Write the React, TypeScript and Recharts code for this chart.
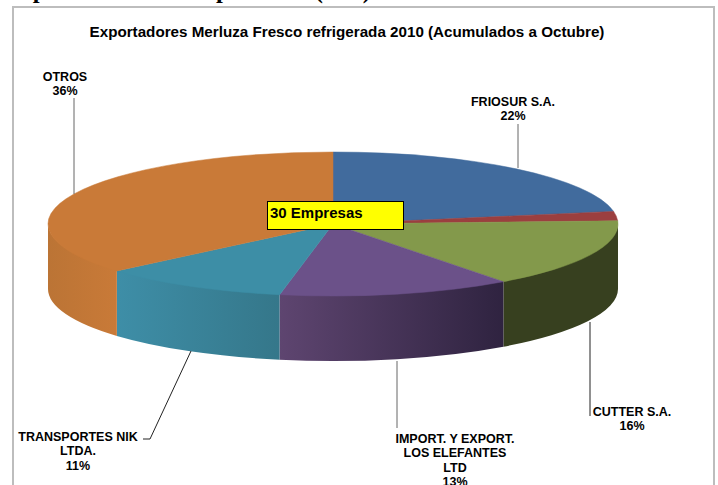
import { PieChart, Pie, Cell } from 'recharts';

const companies = ['FRIOSUR S.A.', 'AUSTRAL', 'CUTTER S.A.', 'IMPORT. Y EXPORT. LOS ELEFANTES LTD', 'TRANSPORTES NIK LTDA.', 'OTROS'];
const shares = [22.2, 2.1, 15.5, 13.2, 10.7, 36.3];
const topColors = ['#416b9d', '#9b3f3f', '#83994b', '#6b5189', '#3d8ea6', '#c97a38'];
const wallFrom = ['#416b9d', '#9b3f3f', '#37401f', '#5e4570', '#3e8ea7', '#bb7435'];
const wallTo = ['#416b9d', '#9b3f3f', '#37401f', '#2f2340', '#35778a', '#c97a38'];
const labelLines = [
  ['FRIOSUR S.A.'],
  [],
  ['CUTTER S.A.'],
  ['IMPORT. Y EXPORT.', 'LOS ELEFANTES', 'LTD'],
  ['TRANSPORTES NIK', 'LTDA.'],
  ['OTROS'],
];

const chartData = companies.map((name, i) => ({ name, value: shares[i] }));

const WIDTH = 718;
const HEIGHT = 485;
const CX = 333;
const CY = 224;
const RX = 285;
const SQUASH = 72 / 285;
const DEPTH = 65;

// where each label's text block sits and which way its leader line runs
const labelAnchors = [
  { x: 513, y: 106, lead: [[518, 124], [518, 168]] },
  null,
  { x: 632, y: 416, lead: [[590, 322], [590, 416]] },
  { x: 455, y: 443, lead: [[397, 361], [397, 428]] },
  { x: 78, y: 441, lead: [[191, 351], [150, 439], [143, 439]] },
  { x: 65, y: 81, lead: [[74, 98], [74, 194]] },
];

const pt = (deg: number, r: number, cx: number, cy: number) => {
  const a = (deg * Math.PI) / 180;
  return [cx + r * Math.cos(a), cy - r * SQUASH * Math.sin(a)];
};

const TopSlice = (props: any) => {
  const { cx, cy, outerRadius, startAngle, endAngle, fill } = props;
  const s = pt(startAngle, outerRadius, cx, cy);
  const e = pt(endAngle, outerRadius, cx, cy);
  const large = Math.abs(startAngle - endAngle) > 180 ? 1 : 0;
  const d = `M${cx},${cy} L${s[0]},${s[1]} A${outerRadius},${outerRadius * SQUASH} 0 ${large} 1 ${e[0]},${e[1]} Z`;
  return <path d={d} fill={fill} stroke={fill} strokeWidth={0.5} />;
};

// side wall of a slice: only the part on the lower half of the ellipse shows
const WallSlice = (props: any) => {
  const { cx, cy, outerRadius, startAngle, endAngle, index } = props;
  const from = Math.min(startAngle, 0);
  const to = Math.max(endAngle, -180);
  if (from <= to) return <g />;
  const s = pt(from, outerRadius, cx, cy);
  const e = pt(to, outerRadius, cx, cy);
  const ry = outerRadius * SQUASH;
  // top edge runs 1px under the top face so no white seam shows
  const d = `M${s[0]},${s[1] - 1} A${outerRadius},${ry} 0 0 1 ${e[0]},${e[1] - 1} L${e[0]},${e[1] + DEPTH} A${outerRadius},${ry} 0 0 0 ${s[0]},${s[1] + DEPTH} Z`;
  const id = `wall-${index}`;
  return (
    <g>
      <defs>
        <linearGradient id={id} x1="0" y1="0" x2="1" y2="0">
          <stop offset="0%" stopColor={wallFrom[index]} />
          <stop offset="100%" stopColor={wallTo[index]} />
        </linearGradient>
      </defs>
      <path d={d} fill={`url(#${id})`} stroke="none" />
    </g>
  );
};

const SliceLabel = (props: any) => {
  const { index, value } = props;
  const anchor = labelAnchors[index];
  if (!anchor) return <g />;
  const lines = [...labelLines[index], `${Math.round(value)}%`];
  return (
    <g>
      <polyline
        points={anchor.lead.map((p) => p.join(',')).join(' ')}
        fill="none"
        stroke={index === 4 || index === 2 ? '#222' : '#666'}
        strokeWidth={1}
      />
      <text
        x={anchor.x}
        y={anchor.y}
        textAnchor="middle"
        fontFamily="Liberation Sans, Arial, sans-serif"
        fontWeight="bold"
        fontSize={12.5}
        fill="#000"
      >
        {lines.map((line, i) => (
          <tspan key={i} x={anchor.x} dy={i === 0 ? 0 : 14.3}>
            {line}
          </tspan>
        ))}
      </text>
    </g>
  );
};

export default function App() {
  return (
    <div style={{ position: 'absolute', left: 0, top: 0, width: WIDTH, height: HEIGHT, overflow: 'hidden', background: '#fff' }}>
      <div style={{ position: 'absolute', left: 12, top: 6, width: 699, height: 600, border: '2px solid #bdbdbd' }} />
      <div
        style={{
          position: 'absolute',
          left: 17,
          top: -24,
          whiteSpace: 'nowrap',
          fontFamily: 'Liberation Serif, serif',
          fontWeight: 'bold',
          fontSize: 24.5,
        }}
      >
        s por cantidades exportadas (Ton)
      </div>
      <PieChart
        width={WIDTH}
        height={HEIGHT}
        margin={{ top: 0, right: 0, bottom: 0, left: 0 }}
        style={{ position: 'absolute', left: 0, top: 0 }}
      >
        <Pie
          data={chartData}
          dataKey="value"
          nameKey="name"
          cx={CX}
          cy={CY}
          outerRadius={RX}
          startAngle={90}
          endAngle={-270}
          stroke="none"
          isAnimationActive={false}
          shape={WallSlice}
          labelLine={false}
          label={SliceLabel}
        />
        <Pie
          data={chartData}
          dataKey="value"
          nameKey="name"
          cx={CX}
          cy={CY}
          outerRadius={RX}
          startAngle={90}
          endAngle={-270}
          stroke="none"
          isAnimationActive={false}
          shape={TopSlice}
          labelLine={false}
        >
          {chartData.map((d, i) => (
            <Cell key={d.name} fill={topColors[i]} />
          ))}
        </Pie>
      </PieChart>
      <div
        style={{
          position: 'absolute',
          left: 267,
          top: 201,
          width: 137,
          height: 29,
          boxSizing: 'border-box',
          border: '1px solid #000',
          background: '#ffff00',
          fontFamily: 'Liberation Sans, Arial, sans-serif',
          fontWeight: 'bold',
          fontSize: 15,
          lineHeight: '22px',
          paddingLeft: 2,
        }}
      >
        30 Empresas
      </div>
      <div
        style={{
          position: 'absolute',
          left: 0,
          top: 23,
          width: 694,
          textAlign: 'center',
          fontFamily: 'Liberation Sans, Arial, sans-serif',
          fontWeight: 'bold',
          fontSize: 15.2,
          whiteSpace: 'nowrap',
        }}
      >
        Exportadores Merluza Fresco refrigerada 2010 (Acumulados a Octubre)
      </div>
    </div>
  );
}
